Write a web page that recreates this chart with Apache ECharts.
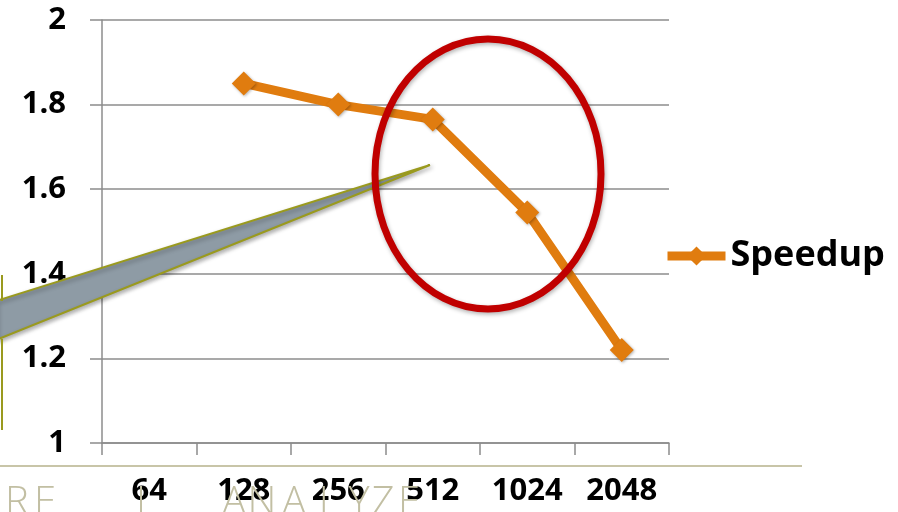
<!DOCTYPE html>
<html>
<head>
<meta charset="utf-8">
<script src="https://cdn.jsdelivr.net/npm/echarts@6/dist/echarts.min.js"></script>
<style>
  html, body { margin: 0; padding: 0; background: #ffffff; }
  #chart { width: 898px; height: 512px; }
</style>
</head>
<body>
<div id="chart"></div>
<script>
const categories = ['64', '128', '256', '512', '1024', '2048'];
const speedup = [null, 1.85, 1.80, 1.765, 1.545, 1.22];
const seriesName = 'Speedup';
const yMin = 1, yMax = 2, yStep = 0.2;
const footerLetters = ['R', 'E', 'I', 'A', 'N', 'A', 'L', 'Y', 'Z', 'E'];
const footerCenters = [17, 45, 141, 234, 262, 294, 329, 359, 383, 409];

const chart = echarts.init(document.getElementById('chart'), null, { renderer: 'canvas' });
const FONT = '"Open Sans", "DejaVu Sans", sans-serif';

const footer = footerLetters.map((ch, i) => ({
  type: 'text', z: 1,
  style: { text: ch, x: footerCenters[i], y: 484, align: 'center', verticalAlign: 'top',
           font: '300 40px "Open Sans", Lato, sans-serif', fill: '#c2bfa3' }
}));

chart.setOption({
  animation: false,
  grid: { left: 102, right: 229, top: 20, bottom: 69, containLabel: false },
  legend: {
    data: [seriesName], left: 663, top: 238, padding: 0, itemWidth: 58, itemHeight: 24, itemGap: 3,
    lineStyle: { width: 9 },
    textStyle: { fontFamily: FONT, fontWeight: 'bold', fontSize: 36, color: '#000' }
  },
  xAxis: {
    type: 'category', data: categories, boundaryGap: true,
    axisLine: { lineStyle: { color: '#8c8c8c', width: 1.5 } },
    axisTick: { show: true, length: 12, lineStyle: { color: '#8c8c8c', width: 1.5 } },
    axisLabel: { margin: 33, fontFamily: FONT, fontWeight: 'bold', fontSize: 31, color: '#000' },
    splitLine: { show: false }
  },
  yAxis: {
    type: 'value', min: yMin, max: yMax, interval: yStep,
    axisLine: { show: true, lineStyle: { color: '#8c8c8c', width: 1.5 } },
    axisTick: { show: true, length: 12, lineStyle: { color: '#8c8c8c', width: 1.5 } },
    axisLabel: { margin: 36, fontFamily: FONT, fontWeight: 'bold', fontSize: 31, color: '#000',
                 formatter: v => String(+v.toFixed(1)) },
    splitLine: { show: true, lineStyle: { color: '#8c8c8c', width: 1.5 } }
  },
  series: [{
    name: seriesName, type: 'line', data: speedup, z: 10,
    symbol: 'diamond', symbolSize: 24, connectNulls: false,
    lineStyle: { color: '#e07c0f', width: 9 },
    itemStyle: { color: '#e07c0f', shadowBlur: 3, shadowColor: 'rgba(0,0,0,0.3)', shadowOffsetX: 1, shadowOffsetY: 1 }
  }],
  graphic: [
    { type: 'line', z: 1, shape: { x1: 0, y1: 466, x2: 802, y2: 466 }, style: { stroke: '#c8c5a8', lineWidth: 2 } },
    ...footer,
    { type: 'polygon', z: 20,
      shape: { points: [[-4, 301], [430, 165], [-4, 340]] },
      style: { fill: '#8e9ba5', stroke: '#9a9a1e', lineWidth: 2,
               shadowBlur: 4, shadowColor: 'rgba(0,0,0,0.3)', shadowOffsetX: 2, shadowOffsetY: 2 } },
    { type: 'polyline', z: 21, shape: { points: [[2, 275], [2, 301]] }, style: { stroke: '#9a9a1e', lineWidth: 2 } },
    { type: 'polyline', z: 21, shape: { points: [[2, 339], [2, 430]] }, style: { stroke: '#9a9a1e', lineWidth: 2 } },
    { type: 'ellipse', z: 22,
      shape: { cx: 488, cy: 174, rx: 113, ry: 135 },
      style: { fill: 'none', stroke: '#c00000', lineWidth: 7,
               shadowBlur: 4, shadowColor: 'rgba(0,0,0,0.3)', shadowOffsetX: 1, shadowOffsetY: 2 } }
  ]
});
</script>
</body>
</html>
